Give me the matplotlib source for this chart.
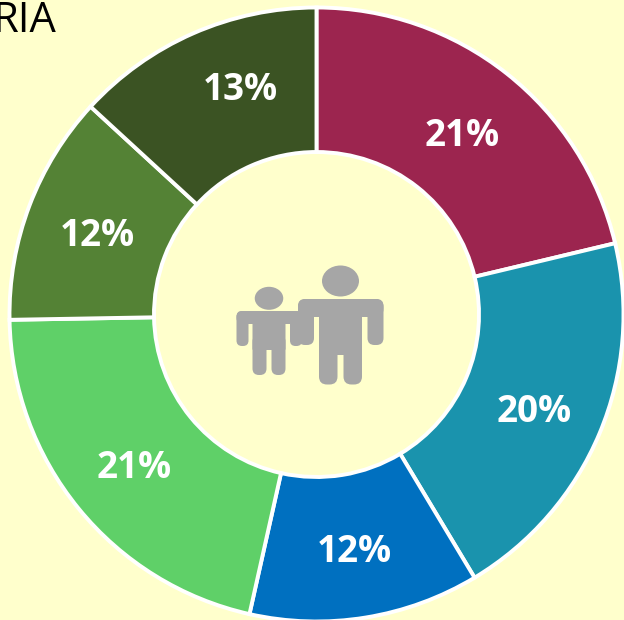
import matplotlib
matplotlib.use("Agg")
import matplotlib.pyplot as plt
from matplotlib.patches import FancyBboxPatch, Ellipse

BG = "#FFFFCC"
GREY = "#A6A6A6"
shares = [21.25, 20.1, 12.1, 21.2, 12.1, 13.15]
labels = ["21%", "20%", "12%", "21%", "12%", "13%"]
colors = ["#9C254F", "#1A93AD", "#0070C0", "#5FD068", "#548235", "#3B5323"]
title = "RIA"

plt.rcParams["font.family"] = ["Open Sans", "DejaVu Sans"]
W, H = 624, 620
fig = plt.figure(figsize=(W / 100, H / 100), dpi=100, facecolor=BG)

cx, cy, R, r_in = 316.5, 314.5, 307, 162.5
ax = fig.add_axes([(cx - R) / W, 1 - (cy + R) / H, 2 * R / W, 2 * R / H])
ax.set_facecolor("none")
ax.pie(shares, colors=colors, startangle=90, counterclock=False, radius=1,
       wedgeprops=dict(width=1 - r_in / R, edgecolor="white", linewidth=2.8))
ax.set_xlim(-1, 1)
ax.set_ylim(-1, 1)

ov = fig.add_axes([0, 0, 1, 1])
ov.set_xlim(0, W)
ov.set_ylim(H, 0)
ov.axis("off")
ov.patch.set_alpha(0)

label_pos = [(462, 135.5), (534, 411.5), (354, 552.5), (134, 468.5), (97, 236.5), (240, 89.5)]
for (x, y), t in zip(label_pos, labels):
    ov.text(x, y, t, color="white", fontsize=26.5, fontweight="bold",
            ha="center", va="center", zorder=5)
ov.text(56.5, 32, title, color="black", fontsize=30, ha="right", va="baseline")


def rbox(x, y, w, h, r=5):
    ov.add_patch(FancyBboxPatch((x + r, y + r), w - 2 * r, h - 2 * r,
                                boxstyle=f"round,pad={r}", fc=GREY, ec="none"))


# adult
ov.add_patch(Ellipse((340.5, 281), 37, 31, fc=GREY, ec="none"))
rbox(298, 299, 85.5, 18, 8)
rbox(298, 299, 16, 46, 7)
rbox(367.5, 299, 16, 46, 7)
rbox(319, 305, 43, 50, 1)
rbox(319, 335, 18.5, 49.5, 8)
rbox(343.5, 335, 18.5, 49.5, 8)
# child
ov.add_patch(Ellipse((269, 298.3), 28.5, 23, fc=GREY, ec="none"))
rbox(236.5, 311, 65, 13, 6)
rbox(236.5, 311, 12, 35, 5.5)
rbox(290, 311, 12, 35, 5.5)
rbox(252.5, 316, 33, 34, 1)
rbox(252.5, 335, 14, 40, 6.5)
rbox(271.5, 335, 14, 40, 6.5)

fig.savefig("out.png", dpi=100, facecolor=BG)
